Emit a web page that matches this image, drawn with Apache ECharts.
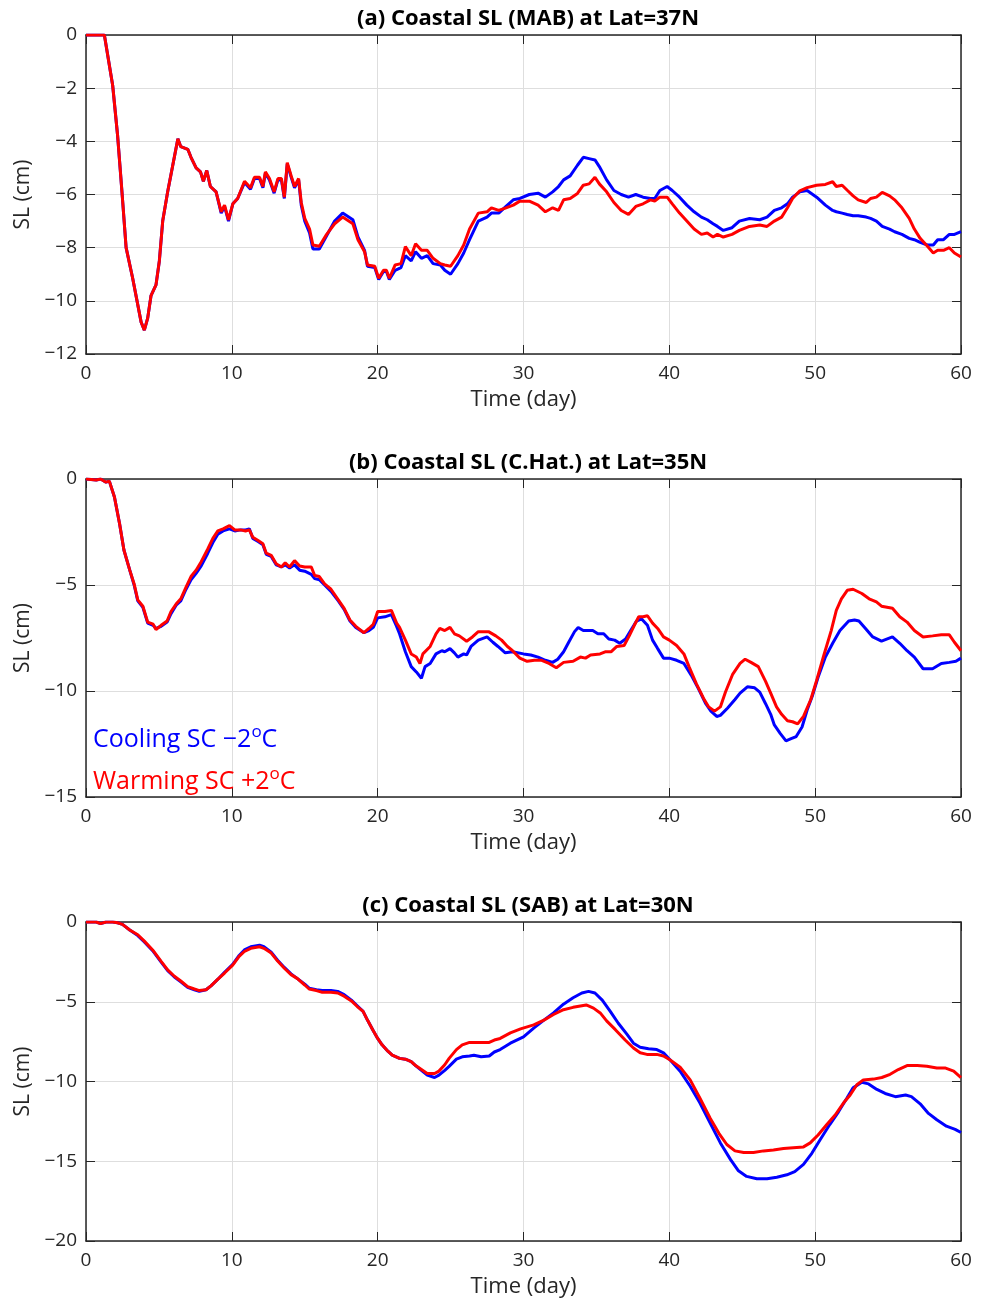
<!DOCTYPE html>
<html>
<head>
<meta charset="utf-8">
<script src="https://cdn.jsdelivr.net/npm/echarts@6/dist/echarts.min.js"></script>
<style>
html,body{margin:0;padding:0;background:#fff;}
#chart{width:988px;height:1301px;}
</style>
</head>
<body>
<div id="chart"></div>
<script>
// ---------------- DATA ----------------
const xTicks = [0, 10, 20, 30, 40, 50, 60];
const titles = ['(a) Coastal SL (MAB) at Lat=37N', '(b) Coastal SL (C.Hat.) at Lat=35N', '(c) Coastal SL (SAB) at Lat=30N'];
const yMins = [-12, -15, -20];
const yIntervals = [2, 5, 5];
const coolName = 'Cooling SC −2°C';
const warmName = 'Warming SC +2°C';

// Panel (a)
const aDays = [0,0.5,1.0,1.26,1.83,2.17,2.5,2.75,3.2,3.78,
  4.0,4.23,4.46,4.8,5.03,5.26,5.6,5.95,6.3,6.5,
  6.98,7.2,7.55,7.85,8.05,8.28,8.53,8.92,9.27,9.5,
  9.77,10.07,10.4,10.87,11.28,11.55,11.9,12.13,12.3,12.58,
  12.9,13.16,13.4,13.6,13.8,14.07,14.3,14.58,14.76,15.0,
  15.33,15.56,16.0,16.5,17.05,17.6,18.3,18.65,19.1,19.3,
  19.8,20.07,20.4,20.6,20.8,21.2,21.6,21.9,22.3,22.6,
  23.0,23.4,23.8,24.3,24.6,25.0,25.5,25.9,26.3,26.9,
  27.5,27.8,28.3,28.8,29.3,29.75,30.4,31.0,31.5,32.0,
  32.4,32.75,33.2,33.7,34.1,34.5,34.9,35.2,35.7,36.2,
  36.7,37.2,37.7,38.2,38.7,39.0,39.35,39.85,40.2,40.7,
  41.2,41.7,42.2,42.6,43.0,43.3,43.7,44.3,44.8,45.5,
  46.2,46.7,47.2,47.7,48.1,48.45,48.95,49.45,50.1,50.7,
  51.2,51.45,51.85,52.2,52.6,52.95,53.5,53.8,54.2,54.6,
  55.1,55.45,55.95,56.45,56.8,57.2,57.7,58.1,58.4,58.8,
  59.2,59.55,60.0];
const aWarm = [0,0,0,0,-1.9,-3.8,-6.15,-8.0,-9.15,-10.8,
  -11.1,-10.65,-9.8,-9.4,-8.5,-7.0,-5.9,-4.9,-3.9,-4.2,
  -4.3,-4.6,-5.0,-5.15,-5.5,-5.1,-5.7,-5.9,-6.65,-6.4,
  -6.95,-6.35,-6.15,-5.5,-5.75,-5.35,-5.35,-5.7,-5.15,-5.4,
  -5.9,-5.4,-5.4,-6.1,-4.8,-5.3,-5.7,-5.4,-6.3,-6.9,
  -7.3,-7.9,-7.95,-7.5,-7.1,-6.85,-7.1,-7.7,-8.15,-8.65,
  -8.7,-9.15,-8.85,-8.85,-9.15,-8.65,-8.6,-7.96,-8.3,-7.85,
  -8.1,-8.1,-8.4,-8.6,-8.65,-8.7,-8.3,-7.9,-7.3,-6.7,
  -6.65,-6.5,-6.6,-6.5,-6.4,-6.25,-6.25,-6.4,-6.65,-6.5,
  -6.6,-6.2,-6.15,-5.96,-5.65,-5.6,-5.35,-5.6,-5.9,-6.3,
  -6.6,-6.75,-6.45,-6.35,-6.2,-6.25,-6.1,-6.1,-6.35,-6.7,
  -7.0,-7.3,-7.5,-7.45,-7.6,-7.5,-7.6,-7.5,-7.35,-7.2,
  -7.15,-7.2,-7.0,-6.85,-6.5,-6.15,-5.86,-5.74,-5.65,-5.62,
  -5.52,-5.7,-5.65,-5.84,-6.05,-6.2,-6.3,-6.15,-6.1,-5.92,
  -6.05,-6.2,-6.5,-6.9,-7.3,-7.65,-7.95,-8.2,-8.1,-8.1,
  -8.0,-8.2,-8.35];
const aCool = [0,0,0,0,-1.9,-3.8,-6.15,-8.0,-9.15,-10.8,
  -11.1,-10.65,-9.8,-9.4,-8.5,-7.0,-5.9,-4.9,-3.9,-4.2,
  -4.3,-4.6,-5.0,-5.15,-5.5,-5.1,-5.7,-5.9,-6.7,-6.45,
  -7.0,-6.35,-6.15,-5.55,-5.8,-5.4,-5.4,-5.75,-5.2,-5.45,
  -5.95,-5.45,-5.45,-6.15,-4.85,-5.35,-5.75,-5.45,-6.4,-7.0,
  -7.45,-8.05,-8.05,-7.55,-7.0,-6.7,-6.95,-7.6,-8.1,-8.7,
  -8.75,-9.2,-8.9,-8.9,-9.2,-8.85,-8.75,-8.3,-8.5,-8.15,
  -8.4,-8.3,-8.6,-8.65,-8.85,-9.0,-8.6,-8.2,-7.7,-7.0,
  -6.85,-6.7,-6.7,-6.45,-6.2,-6.15,-6.0,-5.95,-6.1,-5.9,
  -5.7,-5.45,-5.3,-4.9,-4.6,-4.65,-4.7,-4.95,-5.45,-5.85,
  -6.0,-6.1,-6.0,-6.1,-6.15,-6.15,-5.85,-5.7,-5.85,-6.1,
  -6.4,-6.65,-6.85,-6.95,-7.1,-7.2,-7.35,-7.25,-7.0,-6.9,
  -6.95,-6.85,-6.6,-6.5,-6.35,-6.1,-5.9,-5.85,-6.1,-6.4,
  -6.6,-6.65,-6.7,-6.75,-6.8,-6.8,-6.85,-6.9,-7.0,-7.2,
  -7.3,-7.4,-7.5,-7.65,-7.7,-7.8,-7.9,-7.9,-7.7,-7.7,
  -7.5,-7.5,-7.4];

// Panel (b)
const bDaysWarm = [0,0.7,1.0,1.37,1.6,1.95,2.3,2.6,3.0,3.3,
  3.55,3.9,4.23,4.6,4.8,5.15,5.56,5.83,6.18,6.5,
  6.86,7.2,7.55,7.9,8.35,8.7,9.04,9.4,9.84,10.2,
  10.6,10.94,11.2,11.44,11.8,12.13,12.36,12.7,13.04,13.4,
  13.66,13.96,14.3,14.65,15.0,15.45,15.68,16.0,16.36,16.8,
  17.3,17.7,18.1,18.5,19.06,19.4,19.7,20.0,20.5,20.94,
  21.3,21.5,21.9,22.3,22.65,22.9,23.1,23.6,24.0,24.26,
  24.6,24.96,25.26,25.6,26.1,26.5,26.9,27.6,28.1,28.5,
  28.9,29.25,29.75,30.25,30.75,31.25,31.75,32.25,32.75,33.4,
  33.9,34.25,34.6,35.25,35.6,36.0,36.4,36.9,37.25,37.6,
  37.9,38.2,38.5,38.85,39.2,39.6,40.0,40.5,41.0,41.35,
  41.85,42.35,42.7,43.1,43.5,43.85,44.35,44.85,45.2,45.6,
  46.1,46.6,46.95,47.35,47.7,48.1,48.45,48.8,49.2,49.7,
  50.1,50.6,51.1,51.45,51.8,52.2,52.6,53.2,53.7,54.2,
  54.55,55.3,55.8,56.3,56.8,57.4,58.05,58.65,59.2,59.55,
  60.0];
const bWarm = [0,-0.05,0,-0.15,-0.1,-0.85,-2.1,-3.35,-4.3,-4.95,
  -5.7,-6.0,-6.75,-6.85,-7.1,-6.9,-6.7,-6.25,-5.9,-5.65,
  -5.1,-4.6,-4.3,-3.9,-3.3,-2.8,-2.45,-2.35,-2.2,-2.4,
  -2.4,-2.45,-2.4,-2.75,-2.9,-3.05,-3.5,-3.6,-4.0,-4.15,
  -3.95,-4.15,-3.85,-4.1,-4.15,-4.15,-4.55,-4.6,-4.95,-5.2,
  -5.7,-6.1,-6.65,-6.95,-7.25,-7.05,-6.85,-6.25,-6.25,-6.2,
  -6.8,-7.0,-7.6,-8.25,-8.4,-8.7,-8.25,-7.9,-7.3,-7.05,
  -7.15,-7.0,-7.3,-7.4,-7.65,-7.45,-7.2,-7.2,-7.4,-7.6,
  -7.9,-8.1,-8.45,-8.6,-8.55,-8.55,-8.7,-8.9,-8.65,-8.6,
  -8.4,-8.45,-8.3,-8.25,-8.15,-8.15,-7.9,-7.85,-7.4,-6.9,
  -6.5,-6.5,-6.45,-6.8,-7.05,-7.45,-7.6,-7.85,-8.25,-8.85,
  -9.65,-10.35,-10.75,-10.95,-10.75,-10.05,-9.2,-8.7,-8.5,-8.65,
  -8.85,-9.55,-10.1,-10.75,-11.1,-11.4,-11.45,-11.55,-11.2,-10.4,
  -9.5,-8.3,-7.15,-6.2,-5.65,-5.25,-5.2,-5.4,-5.65,-5.8,
  -6.0,-6.1,-6.5,-6.75,-7.15,-7.45,-7.4,-7.35,-7.35,-7.7,
  -8.1];
const bDaysCool = [0,0.7,1.0,1.37,1.6,1.95,2.3,2.6,3.0,3.3,
  3.55,3.9,4.23,4.6,4.8,5.15,5.56,5.83,6.18,6.5,
  6.86,7.2,7.55,7.9,8.35,8.7,9.04,9.4,9.84,10.2,
  10.6,10.94,11.2,11.44,11.8,12.13,12.36,12.7,13.04,13.4,
  13.66,13.96,14.3,14.65,15.0,15.45,15.68,16.0,16.36,16.8,
  17.3,17.7,18.1,18.5,19.06,19.4,19.7,20.0,20.5,20.94,
  21.3,21.5,21.9,22.3,22.65,23.0,23.25,23.6,24.0,24.4,
  24.6,24.96,25.26,25.5,25.9,26.1,26.4,26.9,27.5,27.9,
  28.25,28.75,29.25,30.0,30.5,31.0,31.5,32.0,32.35,32.75,
  33.1,33.5,33.75,34.1,34.75,35.1,35.5,35.85,36.25,36.6,
  37.0,37.35,37.75,38.1,38.5,38.85,39.2,39.6,40.0,40.5,
  41.0,41.5,42.0,42.5,42.85,43.25,43.5,44.0,44.5,44.85,
  45.35,45.85,46.2,46.6,46.95,47.2,47.6,48.0,48.35,48.7,
  49.1,49.45,49.8,50.2,50.7,51.2,51.7,52.3,52.7,53.0,
  53.45,53.95,54.55,55.3,55.8,56.3,56.8,57.4,58.05,58.65,
  59.2,59.65,60.0];
const bCool = [0,-0.05,0,-0.15,-0.1,-0.85,-2.1,-3.35,-4.3,-5.0,
  -5.75,-6.05,-6.8,-6.9,-7.05,-6.95,-6.75,-6.35,-5.95,-5.75,
  -5.2,-4.75,-4.45,-4.1,-3.5,-3.0,-2.6,-2.45,-2.35,-2.45,
  -2.4,-2.4,-2.35,-2.8,-2.95,-3.1,-3.55,-3.65,-4.05,-4.15,
  -4.05,-4.2,-4.05,-4.3,-4.35,-4.5,-4.7,-4.75,-5.0,-5.3,
  -5.75,-6.15,-6.7,-7.0,-7.25,-7.15,-7.0,-6.55,-6.5,-6.4,
  -6.95,-7.3,-8.15,-8.85,-9.1,-9.4,-8.85,-8.7,-8.25,-8.1,
  -8.15,-8.0,-8.2,-8.4,-8.25,-8.3,-7.9,-7.6,-7.45,-7.7,
  -7.9,-8.2,-8.15,-8.25,-8.3,-8.4,-8.55,-8.65,-8.5,-8.15,
  -7.7,-7.2,-7.0,-7.15,-7.15,-7.3,-7.3,-7.55,-7.6,-7.75,
  -7.55,-7.15,-6.7,-6.6,-6.9,-7.6,-8.0,-8.45,-8.45,-8.55,
  -8.7,-9.25,-9.9,-10.6,-10.95,-11.2,-11.15,-10.8,-10.4,-10.1,
  -9.8,-9.85,-10.05,-10.6,-11.1,-11.6,-12.0,-12.35,-12.25,-12.15,
  -11.7,-10.9,-10.25,-9.35,-8.4,-7.75,-7.15,-6.7,-6.65,-6.7,
  -7.05,-7.45,-7.65,-7.45,-7.75,-8.1,-8.4,-8.95,-8.95,-8.7,
  -8.65,-8.6,-8.45];

// Panel (c)
const cDaysWarm = [0,0.7,1.0,1.37,1.83,2.17,2.5,3.0,3.55,4.0,
  4.57,5.14,5.6,6.06,6.5,6.97,7.43,7.77,8.23,8.57,
  9.03,9.5,10.06,10.5,10.86,11.3,11.9,12.2,12.7,13.14,
  13.6,14.06,14.5,15.0,15.3,15.8,16.2,16.8,17.26,17.7,
  18.2,18.6,19.0,19.3,19.66,20.0,20.3,20.7,21.0,21.5,
  21.9,22.3,22.6,23.0,23.4,23.9,24.2,24.6,24.9,25.4,
  25.8,26.3,26.6,27.1,27.65,28.0,28.4,29.1,29.8,30.7,
  31.4,32.06,32.74,33.4,34.3,34.8,35.26,35.7,36.3,36.97,
  37.54,38.0,38.46,39.14,39.6,40.06,40.74,41.43,42.1,42.8,
  43.4,43.94,44.5,45.1,45.77,46.46,47.14,47.83,48.5,49.2,
  49.66,50.2,50.8,51.37,51.94,52.4,52.86,53.3,54.0,54.57,
  55.14,55.7,56.3,57.0,57.66,58.34,58.9,59.5,60.0];
const cWarm = [0,0,-0.1,0,0,-0.05,-0.15,-0.5,-0.8,-1.2,
  -1.75,-2.45,-3.0,-3.4,-3.7,-4.05,-4.2,-4.3,-4.25,-4.0,
  -3.6,-3.2,-2.7,-2.15,-1.85,-1.65,-1.55,-1.65,-1.95,-2.45,
  -2.9,-3.3,-3.55,-3.95,-4.2,-4.3,-4.4,-4.4,-4.45,-4.65,
  -4.95,-5.3,-5.6,-6.15,-6.75,-7.3,-7.7,-8.1,-8.35,-8.55,
  -8.6,-8.75,-9.0,-9.25,-9.5,-9.5,-9.35,-8.95,-8.55,-8.0,
  -7.7,-7.55,-7.55,-7.55,-7.55,-7.4,-7.3,-6.95,-6.7,-6.45,
  -6.15,-5.8,-5.5,-5.35,-5.2,-5.4,-5.7,-6.2,-6.75,-7.4,
  -7.9,-8.2,-8.3,-8.3,-8.4,-8.65,-9.1,-9.9,-11.05,-12.3,
  -13.25,-13.95,-14.35,-14.45,-14.45,-14.35,-14.3,-14.2,-14.15,-14.1,
  -13.85,-13.35,-12.7,-12.1,-11.35,-10.85,-10.2,-9.9,-9.85,-9.75,
  -9.55,-9.25,-9.0,-9.0,-9.05,-9.15,-9.15,-9.35,-9.75];
const cDaysCool = [0,0.7,1.0,1.37,1.83,2.17,2.5,3.0,3.55,4.0,
  4.57,5.14,5.6,6.06,6.5,6.97,7.43,7.77,8.23,8.57,
  9.03,9.5,10.06,10.5,10.86,11.3,11.9,12.2,12.7,13.14,
  13.6,14.06,14.5,15.0,15.3,15.8,16.2,16.8,17.26,17.7,
  18.2,18.6,19.0,19.3,19.66,20.0,20.3,20.7,21.0,21.5,
  21.9,22.3,22.6,23.0,23.4,23.9,24.2,24.6,24.9,25.4,
  25.8,26.3,26.6,27.1,27.65,28.0,28.4,29.1,30.0,30.7,
  31.4,32.06,32.74,33.4,34.0,34.46,34.9,35.4,35.95,36.5,
  37.1,37.54,38.0,38.57,39.14,39.6,40.06,40.74,41.43,42.1,
  42.8,43.5,44.2,44.74,45.3,46.0,46.7,47.37,48.06,48.6,
  49.2,49.77,50.34,51.0,51.6,52.17,52.6,53.2,53.66,54.23,
  54.8,55.5,56.2,56.6,57.2,57.77,58.34,59.0,59.6,60.0];
const cCool = [0,0,-0.1,0,0,-0.05,-0.15,-0.5,-0.85,-1.25,
  -1.8,-2.5,-3.05,-3.45,-3.75,-4.1,-4.25,-4.35,-4.25,-4.0,
  -3.6,-3.15,-2.65,-2.1,-1.75,-1.55,-1.45,-1.55,-1.9,-2.4,
  -2.85,-3.25,-3.55,-3.9,-4.15,-4.25,-4.3,-4.3,-4.35,-4.55,
  -4.9,-5.25,-5.6,-6.15,-6.75,-7.3,-7.7,-8.1,-8.35,-8.55,
  -8.6,-8.75,-9.0,-9.3,-9.6,-9.75,-9.6,-9.3,-9.05,-8.6,
  -8.45,-8.4,-8.35,-8.45,-8.4,-8.15,-8.0,-7.6,-7.2,-6.65,
  -6.15,-5.7,-5.15,-4.75,-4.45,-4.35,-4.45,-4.9,-5.6,-6.35,
  -7.05,-7.6,-7.85,-7.95,-8.0,-8.2,-8.65,-9.35,-10.3,-11.35,
  -12.6,-13.85,-14.9,-15.6,-15.95,-16.1,-16.1,-16.0,-15.85,-15.65,
  -15.2,-14.5,-13.65,-12.7,-11.9,-11.05,-10.4,-10.05,-10.15,-10.5,
  -10.75,-10.95,-10.85,-10.95,-11.4,-12.0,-12.4,-12.8,-13.0,-13.2];

// ---------------- BUILD ----------------
const FONT = '"Open Sans", "DejaVu Sans", sans-serif';
const INK = '#262626';
const zip = (d, v) => d.map((x, i) => [x, v[i]]);
const minus = v => String(v).replace('-', '\u2212');
const panels = [
  {cool: zip(aDays, aCool), warm: zip(aDays, aWarm)},
  {cool: zip(bDaysCool, bCool), warm: zip(bDaysWarm, bWarm)},
  {cool: zip(cDaysCool, cCool), warm: zip(cDaysWarm, cWarm)}
];
const gridTops = [35, 479, 922];
const gridHeights = [319, 318, 319];

const grid = [], xAxis = [], yAxis = [], series = [], title = [];
const axisLine = {show: true, onZero: false, lineStyle: {color: INK, width: 1.5}};
const axisTick = {show: true, inside: true, length: 9, lineStyle: {color: INK, width: 1}};
panels.forEach((p, i) => {
  grid.push({left: 86, width: 875, top: gridTops[i], height: gridHeights[i]});
  title.push({text: titles[i], left: 523, textAlign: 'center', top: gridTops[i] - 32,
    textStyle: {fontFamily: FONT, fontSize: 22, fontWeight: 'bold', color: '#000'}});
  const xb = {gridIndex: i, type: 'value', min: xTicks[0], max: xTicks[xTicks.length - 1], interval: 10};
  xAxis.push(Object.assign({}, xb, {position: 'bottom', axisLine, axisTick,
    axisLabel: {fontFamily: FONT, fontSize: 19, color: INK, margin: 10},
    splitLine: {show: true, lineStyle: {color: '#dedede', width: 1}},
    name: 'Time (day)', nameLocation: 'middle', nameGap: 35,
    nameTextStyle: {fontFamily: FONT, fontSize: 22, color: INK}}));
  xAxis.push(Object.assign({}, xb, {position: 'top', axisLine, axisTick,
    axisLabel: {show: false}, splitLine: {show: false}}));
  const yb = {gridIndex: i, type: 'value', min: yMins[i], max: 0, interval: yIntervals[i]};
  yAxis.push(Object.assign({}, yb, {position: 'left', axisLine, axisTick,
    axisLabel: {fontFamily: FONT, fontSize: 19, color: INK, margin: 9, formatter: minus},
    splitLine: {show: true, lineStyle: {color: '#dedede', width: 1}},
    name: 'SL (cm)', nameLocation: 'middle', nameGap: 50, nameRotate: 90,
    nameTextStyle: {fontFamily: FONT, fontSize: 21, color: INK}}));
  yAxis.push(Object.assign({}, yb, {position: 'right', axisLine, axisTick,
    axisLabel: {show: false}, splitLine: {show: false}}));
  series.push({name: coolName, type: 'line', xAxisIndex: 2 * i, yAxisIndex: 2 * i,
    data: p.cool, showSymbol: false, symbol: 'none', lineStyle: {color: '#0000ff', width: 3}, itemStyle: {color: '#0000ff'}, z: 3});
  series.push({name: warmName, type: 'line', xAxisIndex: 2 * i, yAxisIndex: 2 * i,
    data: p.warm, showSymbol: false, symbol: 'none', lineStyle: {color: '#ff0000', width: 3}, itemStyle: {color: '#ff0000'}, z: 4});
});

const chart = echarts.init(document.getElementById('chart'), null, {renderer: 'canvas'});
chart.setOption({
  animation: false,
  backgroundColor: '#ffffff',
  title, grid, xAxis, yAxis, series,
  legend: {
    left: 83, top: 719, orient: 'vertical', icon: 'none', itemWidth: 0, itemHeight: 14, itemGap: 13,
    selectedMode: false,
    data: [coolName, warmName],
    formatter: name => name === coolName ? '{c|Cooling SC \u22122}{cs|o}{c|C}' : '{w|Warming SC +2}{ws|o}{w|C}',
    textStyle: {
      fontFamily: FONT, fontSize: 25,
      rich: {
        c: {fontFamily: FONT, fontSize: 25, color: '#0000ff', lineHeight: 32},
        cs: {fontFamily: FONT, fontSize: 17, color: '#0000ff', verticalAlign: 'top', lineHeight: 20},
        w: {fontFamily: FONT, fontSize: 25, color: '#ff0000', lineHeight: 32},
        ws: {fontFamily: FONT, fontSize: 17, color: '#ff0000', verticalAlign: 'top', lineHeight: 20}
      }
    }
  }
});
</script>
</body>
</html>
